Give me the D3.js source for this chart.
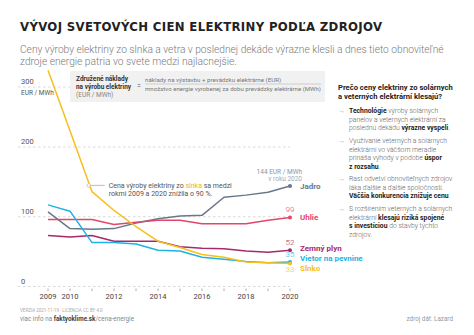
<!DOCTYPE html>
<html>
<head>
<meta charset="utf-8">
<script src="https://cdn.jsdelivr.net/npm/d3@7"></script>
<style>
  html, body { margin: 0; padding: 0; background: #fff; }
  svg { display: block; font-family: Roboto, "Noto Sans", sans-serif; }
  .grid line { stroke: #cfcfcf; stroke-dasharray: 2.5 2.5; stroke-width: 0.8; }
  .series { fill: none; stroke-width: 1.5; stroke-linejoin: round; }
</style>
</head>
<body>
<svg id="chart" width="474" height="335"></svg>
<script>
// price data, EUR / MWh
const years = [2009, 2010, 2011, 2012, 2013, 2014, 2015, 2016, 2017, 2018, 2019, 2020];
const jadro  = [107, 83, 82, 83, 91, 97, 101, 102, 128, 131, 135, 144];
const uhlie  = [96, 96, 96, 89, 92, 95, 95, 90, 90, 90, 95, 99];
const plyn   = [73, 71, 73, 65, 65, 65, 57, 55, 54, 51, 49, 52];
const vietor = [117, 108, 63, 63, 61, 52, 51, 42, 39, 36, 34, 35];
const slnko  = [328, 227, 136, 109, 86, 65, 56, 46, 42, 35, 34, 33];

const seriesNames  = ["Jadro", "Uhlie", "Zemný plyn", "Vietor na pevnine", "Slnko"];
const seriesValues = [jadro, uhlie, plyn, vietor, slnko];
const seriesColors = ["#687889", "#e4466b", "#a52a6b", "#1fb2e4", "#f6c01c"];

const yTicks = [0, 100, 200, 300];
const xTickYears = [2009, 2010, 2012, 2014, 2016, 2018, 2020];

const svg = d3.select("#chart");

// scales (upper part of the y axis is compressed)
const x = d3.scaleLinear().domain([2009, 2020]).range([48, 290]);
const y = d3.scaleLinear().domain([0, 200, 300]).range([286.5, 147, 87]);

// title + subtitle
svg.append("text")
  .attr("x", 20).attr("y", 30.5)
  .attr("textLength", 362).attr("lengthAdjust", "spacing")
  .style("font-family", "'DejaVu Sans Condensed', 'DejaVu Sans', sans-serif")
  .style("font-weight", "bold").style("font-size", "13px")
  .style("fill", "#222")
  .text("VÝVOJ SVETOVÝCH CIEN ELEKTRINY PODĽA ZDROJOV");

const sub = svg.append("g").style("font-size", "10.2px").style("fill", "#7a7a7a").style("font-weight", 300);
sub.append("text").attr("x", 20).attr("y", 53)
  .text("Ceny výroby elektriny zo slnka a vetra v poslednej dekáde výrazne klesli a dnes tieto obnoviteľné");
sub.append("text").attr("x", 20).attr("y", 64.5)
  .text("zdroje energie patria vo svete medzi najlacnejšie.");

// gridlines + y labels
const grid = svg.append("g").attr("class", "grid");
grid.selectAll("line").data(yTicks).join("line")
  .attr("x1", 18).attr("x2", 290)
  .attr("y1", d => y(d)).attr("y2", d => y(d));
svg.append("g").selectAll("text").data(yTicks).join("text")
  .attr("x", 21).attr("y", d => y(d) - 3)
  .style("font-size", "7.5px").style("fill", "#555")
  .text(d => d);
svg.append("text").attr("x", 21).attr("y", y(300) + 8)
  .style("font-size", "6.5px").style("fill", "#555")
  .text("EUR / MWh");

// x axis: a tick for every year, labels for some
const xAxis = svg.append("g");
xAxis.selectAll("line").data(years).join("line")
  .attr("x1", d => x(d)).attr("x2", d => x(d))
  .attr("y1", 288.5).attr("y2", 291)
  .attr("stroke", "#999").attr("stroke-width", 0.8);
xAxis.selectAll("text").data(xTickYears).join("text")
  .attr("x", d => x(d)).attr("y", 299)
  .attr("text-anchor", "middle")
  .style("font-size", "7.5px").style("fill", "#444")
  .text(d => d);

// formula box
const box = svg.append("g");
box.append("rect").attr("x", 70).attr("y", 71).attr("width", 255).attr("height", 31)
  .attr("fill", "#f1f1f1");
box.append("text").attr("x", 76).attr("y", 80.5)
  .attr("textLength", 52).attr("lengthAdjust", "spacingAndGlyphs")
  .style("font-size", "6.6px").style("font-weight", "bold").style("fill", "#333")
  .text("Združené náklady");
box.append("text").attr("x", 76).attr("y", 88.5)
  .attr("textLength", 55).attr("lengthAdjust", "spacingAndGlyphs")
  .style("font-size", "6.6px").style("font-weight", "bold").style("fill", "#333")
  .text("na výrobu elektriny");
box.append("text").attr("x", 76).attr("y", 96.5)
  .style("font-size", "6.5px").style("fill", "#888")
  .text("(EUR / MWh)");
box.append("text").attr("x", 137).attr("y", 88)
  .style("font-size", "7px").style("fill", "#555").text("=");
box.append("text").attr("x", 145).attr("y", 81.5)
  .style("font-size", "6.2px").style("fill", "#777")
  .text("náklady na výstavbu + prevádzku elektrárne (EUR)");
box.append("line").attr("x1", 145).attr("x2", 321).attr("y1", 84).attr("y2", 84)
  .attr("stroke", "#aaa").attr("stroke-width", 0.5);
box.append("text").attr("x", 145).attr("y", 90.5)
  .attr("textLength", 176).attr("lengthAdjust", "spacingAndGlyphs")
  .style("font-size", "6.2px").style("fill", "#777")
  .text("množstvo energie vyrobenej za dobu prevádzky elektrárne (MWh)");

// series lines
const line = d3.line().x((d, i) => x(years[i])).y(d => y(d));
svg.append("g").selectAll("path").data(seriesValues).join("path")
  .attr("class", "series")
  .attr("stroke", (d, i) => seriesColors[i])
  .attr("d", line);

// end dots
const last = years.length - 1;
svg.append("g").selectAll("circle").data(seriesValues).join("circle")
  .attr("cx", x(years[last])).attr("cy", d => y(d[last]))
  .attr("r", 2).attr("fill", (d, i) => seriesColors[i]);

// end values
const valueOffsets = [null, -5, -5, -5, 9];
svg.append("g").selectAll("text").data(seriesValues.slice(1)).join("text")
  .attr("x", x(years[last])).attr("y", (d, i) => y(d[last]) + valueOffsets[i + 1])
  .attr("text-anchor", "middle")
  .style("font-size", "8px").style("font-weight", 300)
  .style("fill", (d, i) => seriesColors[i + 1])
  .text(d => d[last]);

svg.append("text").attr("x", 302).attr("y", y(jadro[last]) - 12)
  .attr("text-anchor", "end").style("font-size", "6.5px").style("fill", "#8a96a3")
  .text(`${jadro[last]} EUR / MWh`);
svg.append("text").attr("x", 302).attr("y", y(jadro[last]) - 5)
  .attr("text-anchor", "end").style("font-size", "6.5px").style("fill", "#a0aab4")
  .text("v roku 2020");

// series names on the right
const nameY = [y(jadro[last]) + 3, y(uhlie[last]) + 3, 251, 261, 271];
svg.append("g").selectAll("text").data(seriesNames).join("text")
  .attr("x", 300).attr("y", (d, i) => nameY[i])
  .style("font-size", "8px").style("font-weight", "bold")
  .style("fill", (d, i) => seriesColors[i])
  .text(d => d);

// solar annotation
const ax = x(2010.85), ay = y(145);
svg.append("line").attr("x1", ax).attr("x2", ax + 16).attr("y1", ay).attr("y2", ay)
  .attr("stroke", "#bbb").attr("stroke-width", 1);
svg.append("circle").attr("cx", ax).attr("cy", ay).attr("r", 1.8)
  .attr("fill", "#fff").attr("stroke", "#bbb").attr("stroke-width", 0.8);
const ann = svg.append("g").style("font-size", "7px").style("fill", "#555");
const a1 = ann.append("text").attr("x", ax + 20).attr("y", ay + 2.5);
a1.append("tspan").text("Cena výroby elektriny zo ");
a1.append("tspan").style("fill", "#f0b400").text("slnka");
a1.append("tspan").text(" sa medzi");
ann.append("text").attr("x", ax + 20).attr("y", ay + 10.5)
  .text("rokmi 2009 a 2020 znížila o 90 %.");

// side panel
const panel = svg.append("g");
panel.append("text").attr("x", 338).attr("y", 90)
  .style("font-size", "7.6px").style("font-weight", "bold").style("fill", "#222")
  .text("Prečo ceny elektriny zo solárnych");
panel.append("text").attr("x", 338).attr("y", 98.5)
  .style("font-size", "7.6px").style("font-weight", "bold").style("fill", "#222")
  .text("a veterných elektrární klesajú?");

const bullets = [
  { y: 113, lines: [
    [["Technológie", 1], [" výroby solárnych", 0]],
    [["panelov a veterných elektrární za", 0]],
    [["poslednú dekádu ", 0], ["výrazne vyspeli", 1], [".", 0]]
  ]},
  { y: 143, lines: [
    [["Využívanie veterných a solárnych", 0]],
    [["elektrární vo väčšom meradle", 0]],
    [["prináša výhody v podobe ", 0], ["úspor", 1]],
    [["z rozsahu", 1], [".", 0]]
  ]},
  { y: 181, lines: [
    [["Rast odvetví obnoviteľných zdrojov", 0]],
    [["láka ďalšie a ďalšie spoločnosti.", 0]],
    [["Väčšia konkurencia znižuje cenu", 1], [".", 0]]
  ]},
  { y: 211, lines: [
    [["S rozšírením veterných a solárnych", 0]],
    [["elektrární ", 0], ["klesajú riziká spojené", 1]],
    [["s investíciou", 1], [" do stavby týchto", 0]],
    [["zdrojov.", 0]]
  ]}
];
bullets.forEach(b => {
  panel.append("text").attr("x", 338).attr("y", b.y)
    .style("font-size", "7px").style("fill", "#aaa").text("→");
  b.lines.forEach((ln, j) => {
    const t = panel.append("text").attr("x", 349).attr("y", b.y + j * 8.5)
      .style("font-size", "6.8px");
    ln.forEach(([s, bold]) => {
      t.append("tspan")
        .style("font-weight", bold ? "bold" : 300)
        .style("fill", bold ? "#222" : "#666")
        .text(s);
    });
  });
});

// footer
svg.append("text").attr("x", 20).attr("y", 312)
  .style("font-size", "4.5px").style("fill", "#aaa")
  .text("VERZIA 2021-11-19 · LICENCIA CC BY 4.0");
const foot = svg.append("text").attr("x", 20).attr("y", 321)
  .style("font-size", "6.3px").style("fill", "#888");
foot.append("tspan").text("viac info na ");
foot.append("tspan").style("font-weight", "bold").style("fill", "#444").text("faktyoklime.sk");
foot.append("tspan").text("/cena-energie");
svg.append("text").attr("x", 453).attr("y", 321).attr("text-anchor", "end")
  .style("font-size", "6.3px").style("fill", "#999")
  .text("zdroj dát: Lazard");
</script>
</body>
</html>
